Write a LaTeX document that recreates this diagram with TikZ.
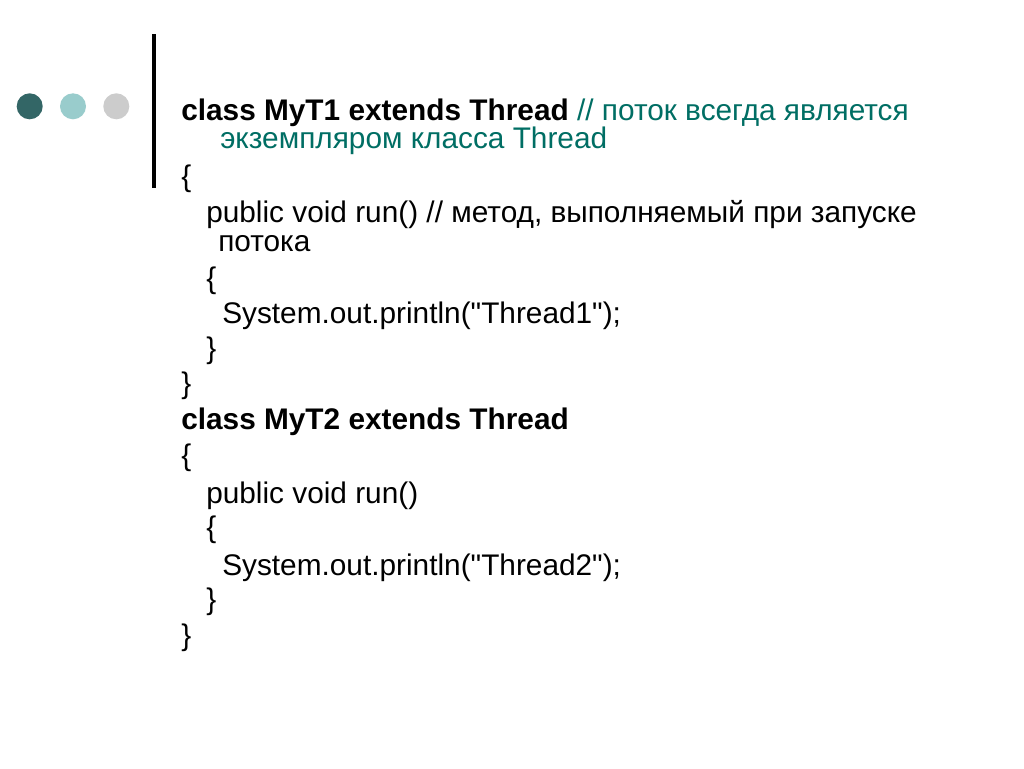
\documentclass[tikz,border=0pt]{standalone}
\usepackage{fontspec}
\setmainfont{Liberation Sans}
\usetikzlibrary{positioning}
\definecolor{dotdark}{RGB}{51,102,102}
\definecolor{dotlight}{RGB}{153,204,204}
\definecolor{dotgray}{RGB}{204,204,204}
\definecolor{cmtcol}{RGB}{0,110,100}
\newcommand{\codefont}{\fontsize{22.35}{26}\selectfont}
\newcommand{\dq}{\textquotedbl}
\tikzset{
    codesty/.style={anchor=base west,inner sep=0pt,font=\codefont},
    boldsty/.style={codesty,font=\codefont\bfseries},
    cmtsty/.style={codesty,text=cmtcol},
    dotsty/.style={circle,minimum size=19.5pt,inner sep=0pt},
}

\begin{document}
\begin{tikzpicture}[x=0.75pt,y=-0.75pt]
\useasboundingbox[fill=white] (0,0) rectangle (1024,768);

\node[dotsty,fill=dotdark]  (d1) at (29.7,106.3) {};
\node[dotsty,fill=dotlight] (d2) at (73,106.3) {};
\node[dotsty,fill=dotgray]  (d3) at (116.3,106.3) {};
\fill (151.7,34) rectangle (156,188.3);

\node[codesty] (c1) at (181,120.5) {{\bfseries class MyT1 extends Thread} \textcolor{cmtcol}{// поток всегда является}};
\node[cmtsty] (c1b) at (220,148.5) {экземпляром класса Thread};
\node[codesty] (o1) at (181,186.5) {\{};
\node[codesty] (r1) at (206,222.5) {public void run() // метод, выполняемый при запуске};
\node[codesty] (r1b) at (218,251) {потока};
\node[codesty] (o2) at (206,288) {\{};
\node[codesty] (p1) at (222,323) {System.out.println(\dq Thread1\dq);};
\node[codesty] (e2) at (206,358) {\}};
\node[codesty] (e1) at (181,393.5) {\}};

\node[boldsty] (c2) at (181,429) {class MyT2 extends Thread};
\node[codesty] (o3) at (181,465) {\{};
\node[codesty] (r2) at (206,503) {public void run()};
\node[codesty] (o4) at (206,537) {\{};
\node[codesty] (p2) at (222,575) {System.out.println(\dq Thread2\dq);};
\node[codesty] (e4) at (206,609) {\}};
\node[codesty] (e3) at (181,645) {\}};
\end{tikzpicture}
\end{document}
